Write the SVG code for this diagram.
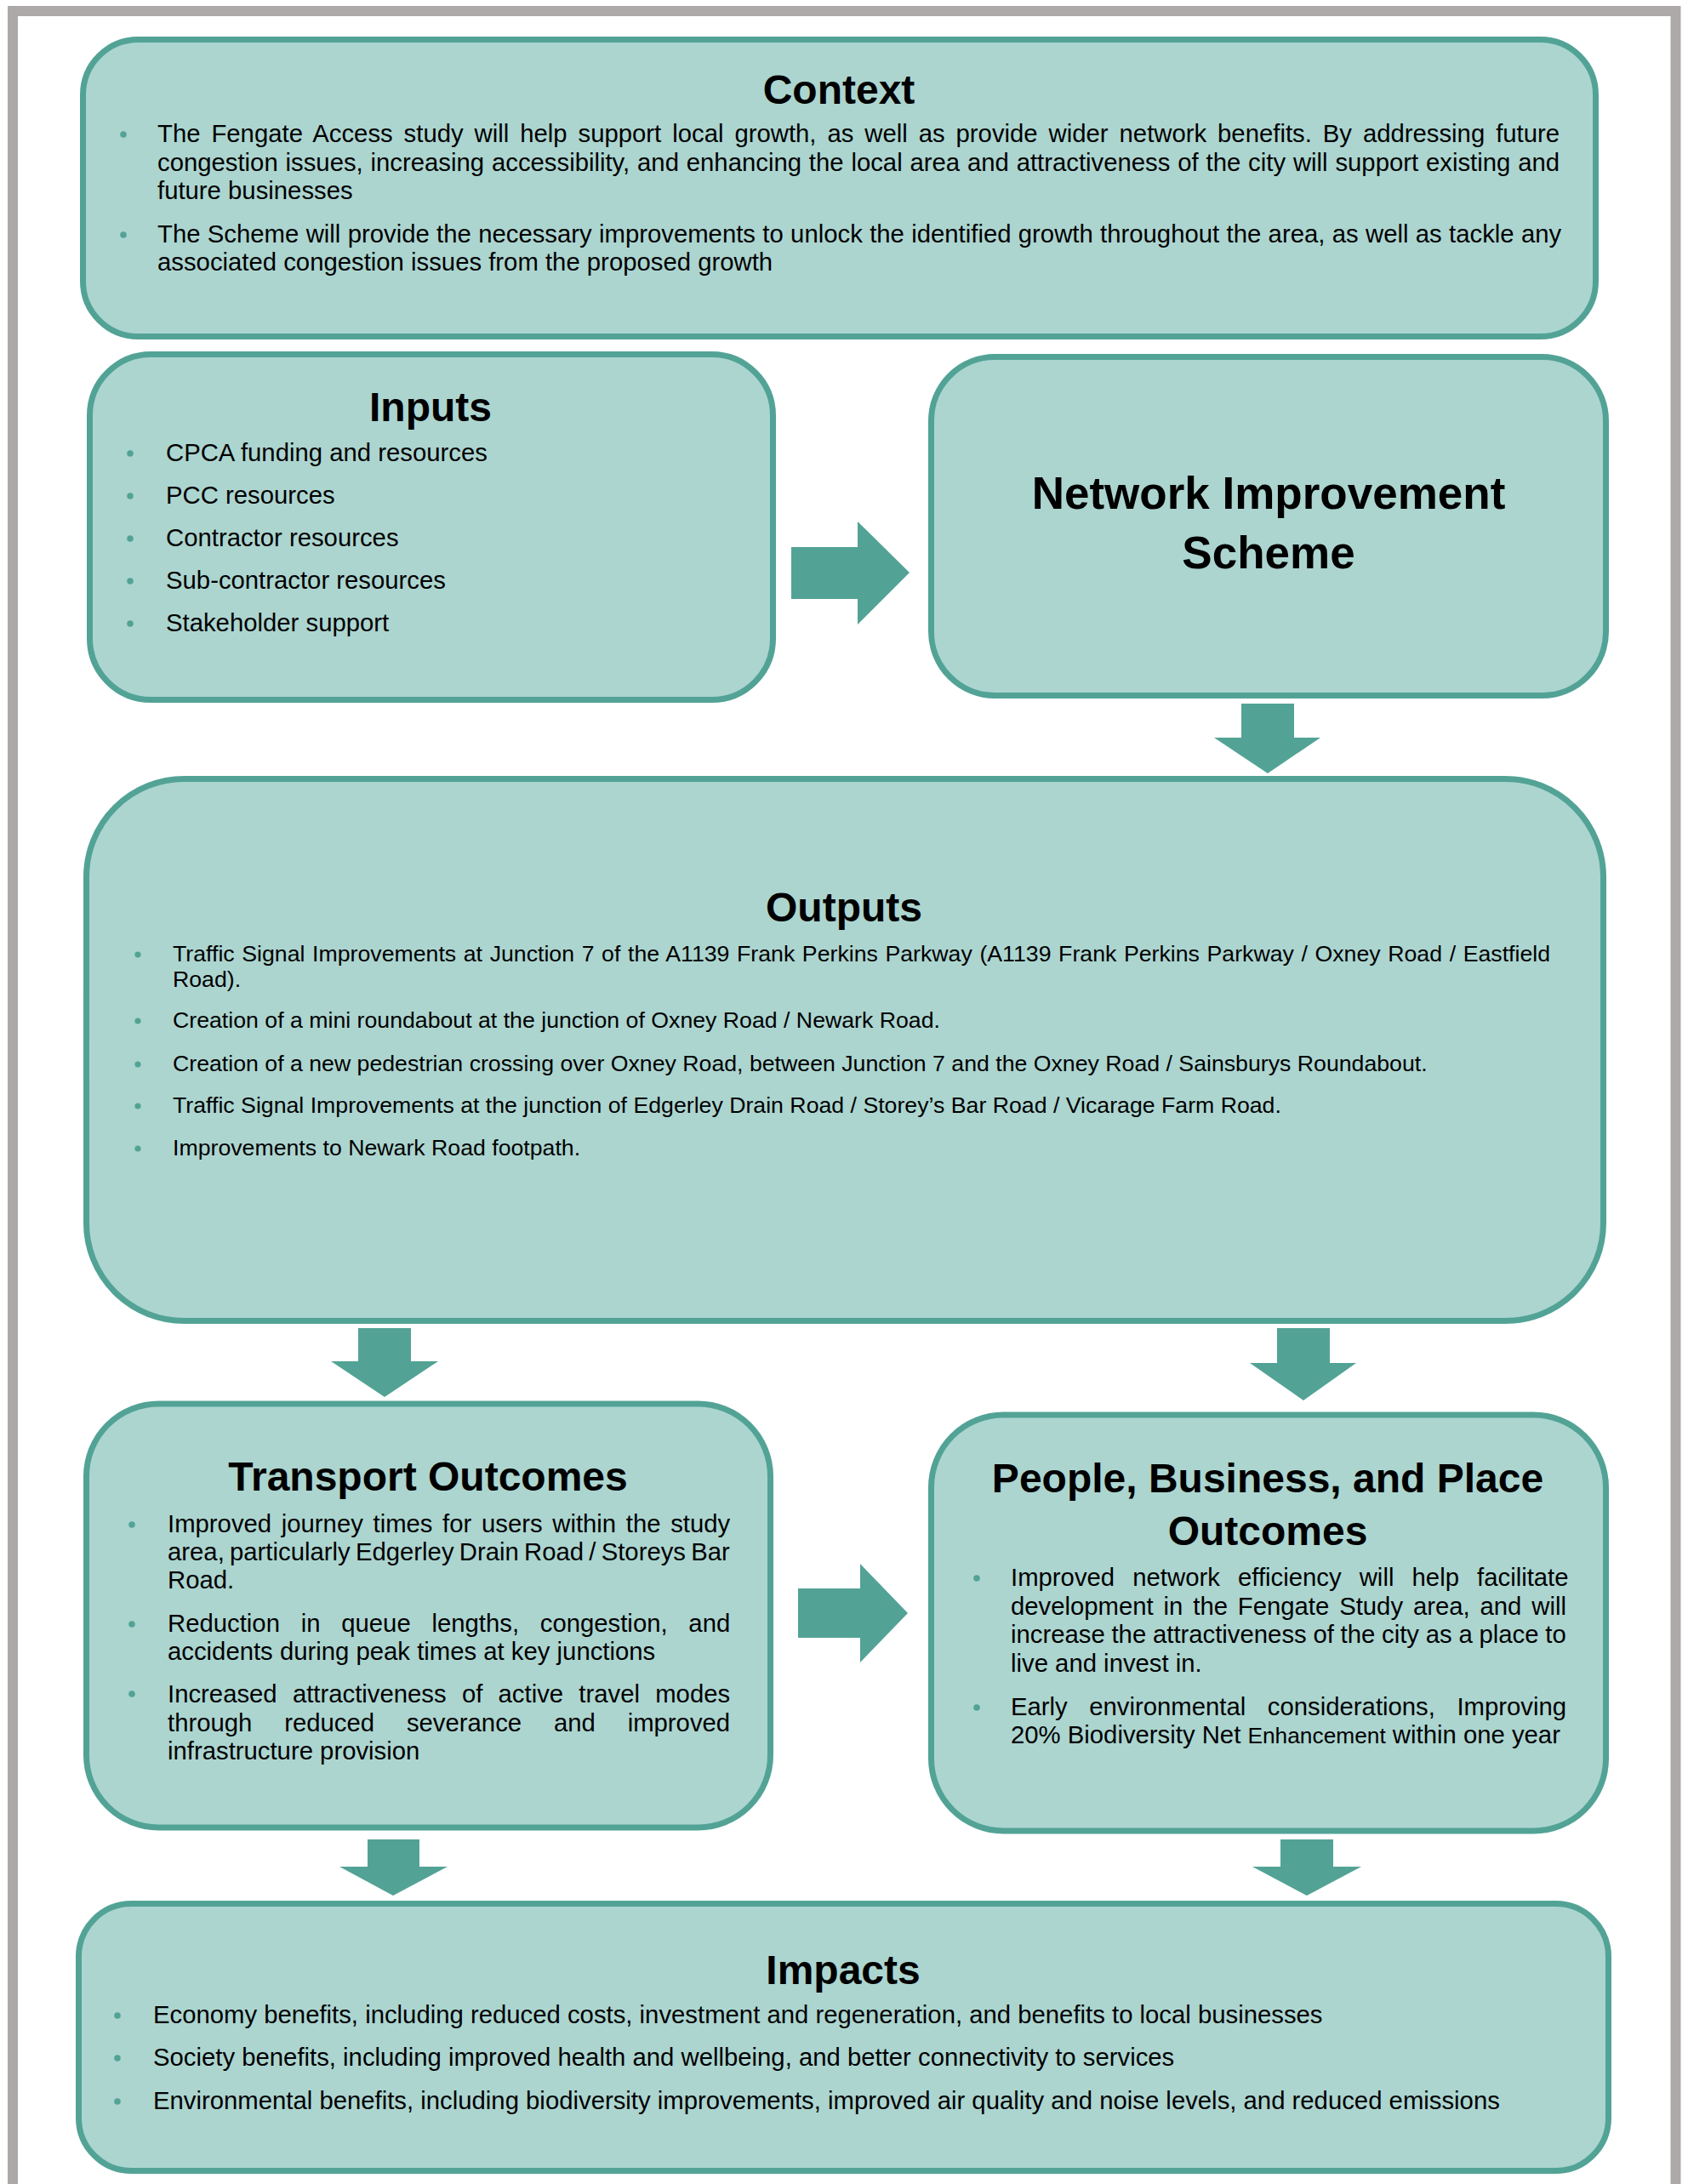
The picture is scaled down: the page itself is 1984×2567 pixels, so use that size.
<svg xmlns="http://www.w3.org/2000/svg" width="1984" height="2567" viewBox="0 0 1984 2567">
<style>
.box{fill:#ACD5D0;stroke:#52A396;stroke-width:7}
.t{font-family:"Liberation Sans",Arial,sans-serif;font-weight:bold;font-size:48px;fill:#000;text-anchor:middle}
.b{font-family:"Liberation Sans",Arial,sans-serif;font-size:29.3px;fill:#000}
.s{font-size:26.7px}
.e{font-size:26.3px}
.dot{fill:#52A396}
.arr{fill:#52A396}
</style>
<rect x="0" y="0" width="1984" height="2567" fill="#fff"/>
<path d="M15 2600 V13 H1969.5 V2600" fill="none" stroke="#ADA9A9" stroke-width="12"/>

<g id="context">
<rect class="box" x="97.5" y="46.5" width="1778" height="349" rx="65"/>
<text class="t" x="986" y="122">Context</text>
<circle class="dot" cx="145" cy="158" r="3.8"/>
<circle class="dot" cx="145" cy="276" r="3.8"/>
<text class="b" x="185" y="167" word-spacing="4.8">The Fengate Access study will help support local growth, as well as provide wider network benefits. By addressing future</text>
<text class="b" x="185" y="201" word-spacing="0.7">congestion issues, increasing accessibility, and enhancing the local area and attractiveness of the city will support existing and</text>
<text class="b" x="185" y="234">future businesses</text>
<text class="b" x="185" y="285" word-spacing="0.2">The Scheme will provide the necessary improvements to unlock the identified growth throughout the area, as well as tackle any</text>
<text class="b" x="185" y="318">associated congestion issues from the proposed growth</text>
</g>

<g id="inputs">
<rect class="box" x="105.5" y="416.5" width="803" height="406" rx="72"/>
<text class="t" x="506" y="495">Inputs</text>
<circle class="dot" cx="153" cy="533" r="3.8"/>
<circle class="dot" cx="153" cy="583" r="3.8"/>
<circle class="dot" cx="153" cy="633" r="3.8"/>
<circle class="dot" cx="153" cy="683" r="3.8"/>
<circle class="dot" cx="153" cy="733" r="3.8"/>
<text class="b" x="195" y="542">CPCA funding and resources</text>
<text class="b" x="195" y="592">PCC resources</text>
<text class="b" x="195" y="642">Contractor resources</text>
<text class="b" x="195" y="692">Sub-contractor resources</text>
<text class="b" x="195" y="742">Stakeholder support</text>
</g>

<g id="network-improvement-scheme">
<rect class="box" x="1094.5" y="419.5" width="793" height="398" rx="75"/>
<text class="t" x="1491" y="598" style="font-size:53px">Network Improvement</text>
<text class="t" x="1491" y="668" style="font-size:53px">Scheme</text>
</g>

<g id="outputs">
<rect class="box" x="101.5" y="915.5" width="1783" height="637" rx="115"/>
<text class="t" x="992" y="1083">Outputs</text>
<circle class="dot" cx="162" cy="1122" r="3.6"/>
<circle class="dot" cx="162" cy="1200" r="3.6"/>
<circle class="dot" cx="162" cy="1251" r="3.6"/>
<circle class="dot" cx="162" cy="1300" r="3.6"/>
<circle class="dot" cx="162" cy="1350" r="3.6"/>
<text class="b s" x="203" y="1130" word-spacing="1.2">Traffic Signal Improvements at Junction 7 of the A1139 Frank Perkins Parkway (A1139 Frank Perkins Parkway / Oxney Road / Eastfield</text>
<text class="b s" x="203" y="1160">Road).</text>
<text class="b s" x="203" y="1208">Creation of a mini roundabout at the junction of Oxney Road / Newark Road.</text>
<text class="b s" x="203" y="1259">Creation of a new pedestrian crossing over Oxney Road, between Junction 7 and the Oxney Road / Sainsburys Roundabout.</text>
<text class="b s" x="203" y="1308">Traffic Signal Improvements at the junction of Edgerley Drain Road / Storey’s Bar Road / Vicarage Farm Road.</text>
<text class="b s" x="203" y="1358">Improvements to Newark Road footpath.</text>
</g>

<g id="transport-outcomes">
<rect class="box" x="101.5" y="1650" width="804" height="498" rx="85"/>
<text class="t" x="503" y="1752">Transport Outcomes</text>
<circle class="dot" cx="155" cy="1792" r="3.8"/>
<circle class="dot" cx="155" cy="1909" r="3.8"/>
<circle class="dot" cx="155" cy="1991" r="3.8"/>
<text class="b" x="197" y="1801" word-spacing="3.5">Improved journey times for users within the study</text>
<text class="b" x="197" y="1834" word-spacing="-1.9">area, particularly Edgerley Drain Road / Storeys Bar</text>
<text class="b" x="197" y="1867">Road.</text>
<text class="b" x="197" y="1918" word-spacing="16.6">Reduction in queue lengths, congestion, and</text>
<text class="b" x="197" y="1951">accidents during peak times at key junctions</text>
<text class="b" x="197" y="2001" word-spacing="10.1">Increased attractiveness of active travel modes</text>
<text class="b" x="197" y="2035" word-spacing="29.7">through reduced severance and improved</text>
<text class="b" x="197" y="2068">infrastructure provision</text>
</g>

<g id="people-business-place-outcomes">
<rect class="box" x="1094.5" y="1663" width="793" height="489" rx="85"/>
<text class="t" x="1490" y="1754">People, Business, and Place</text>
<text class="t" x="1490" y="1816">Outcomes</text>
<circle class="dot" cx="1148" cy="1855" r="3.8"/>
<circle class="dot" cx="1148" cy="2007" r="3.8"/>
<text class="b" x="1188" y="1864" word-spacing="13">Improved network efficiency will help facilitate</text>
<text class="b" x="1188" y="1898" word-spacing="3.7">development in the Fengate Study area, and will</text>
<text class="b" x="1188" y="1931" word-spacing="-0.4">increase the attractiveness of the city as a place to</text>
<text class="b" x="1188" y="1965">live and invest in.</text>
<text class="b" x="1188" y="2016" word-spacing="17.4">Early environmental considerations, Improving</text>
<text class="b" x="1188" y="2049">20% Biodiversity Net <tspan class="e">Enhancement</tspan> within one year</text>
</g>

<g id="impacts">
<rect class="box" x="92.5" y="2237.5" width="1798" height="314" rx="62"/>
<text class="t" x="991" y="2332">Impacts</text>
<circle class="dot" cx="138" cy="2369" r="3.8"/>
<circle class="dot" cx="138" cy="2419" r="3.8"/>
<circle class="dot" cx="138" cy="2470" r="3.8"/>
<text class="b" x="180" y="2378">Economy benefits, including reduced costs, investment and regeneration, and benefits to local businesses</text>
<text class="b" x="180" y="2428">Society benefits, including improved health and wellbeing, and better connectivity to services</text>
<text class="b" x="180" y="2479">Environmental benefits, including biodiversity improvements, improved air quality and noise levels, and reduced emissions</text>
</g>

<g id="connectors">
<polygon class="arr" points="930,643 1008,643 1008,613 1069,673 1008,734 1008,704 930,704"/>
<polygon class="arr" points="1459,827 1521,827 1521,867 1552,867 1490,909 1427,867 1459,867"/>
<polygon class="arr" points="421,1561 483,1561 483,1600 515,1600 452,1642 389,1600 421,1600"/>
<polygon class="arr" points="1501,1561 1563,1561 1563,1602 1594,1602 1532,1646 1469,1602 1501,1602"/>
<polygon class="arr" points="938,1867 1011,1867 1011,1838 1067,1896 1011,1954 1011,1925 938,1925"/>
<polygon class="arr" points="432,2162 493,2162 493,2194 526,2194 462,2228 399,2194 432,2194"/>
<polygon class="arr" points="1505,2162 1567,2162 1567,2194 1600,2194 1536,2228 1472,2194 1505,2194"/>
</g>
</svg>
